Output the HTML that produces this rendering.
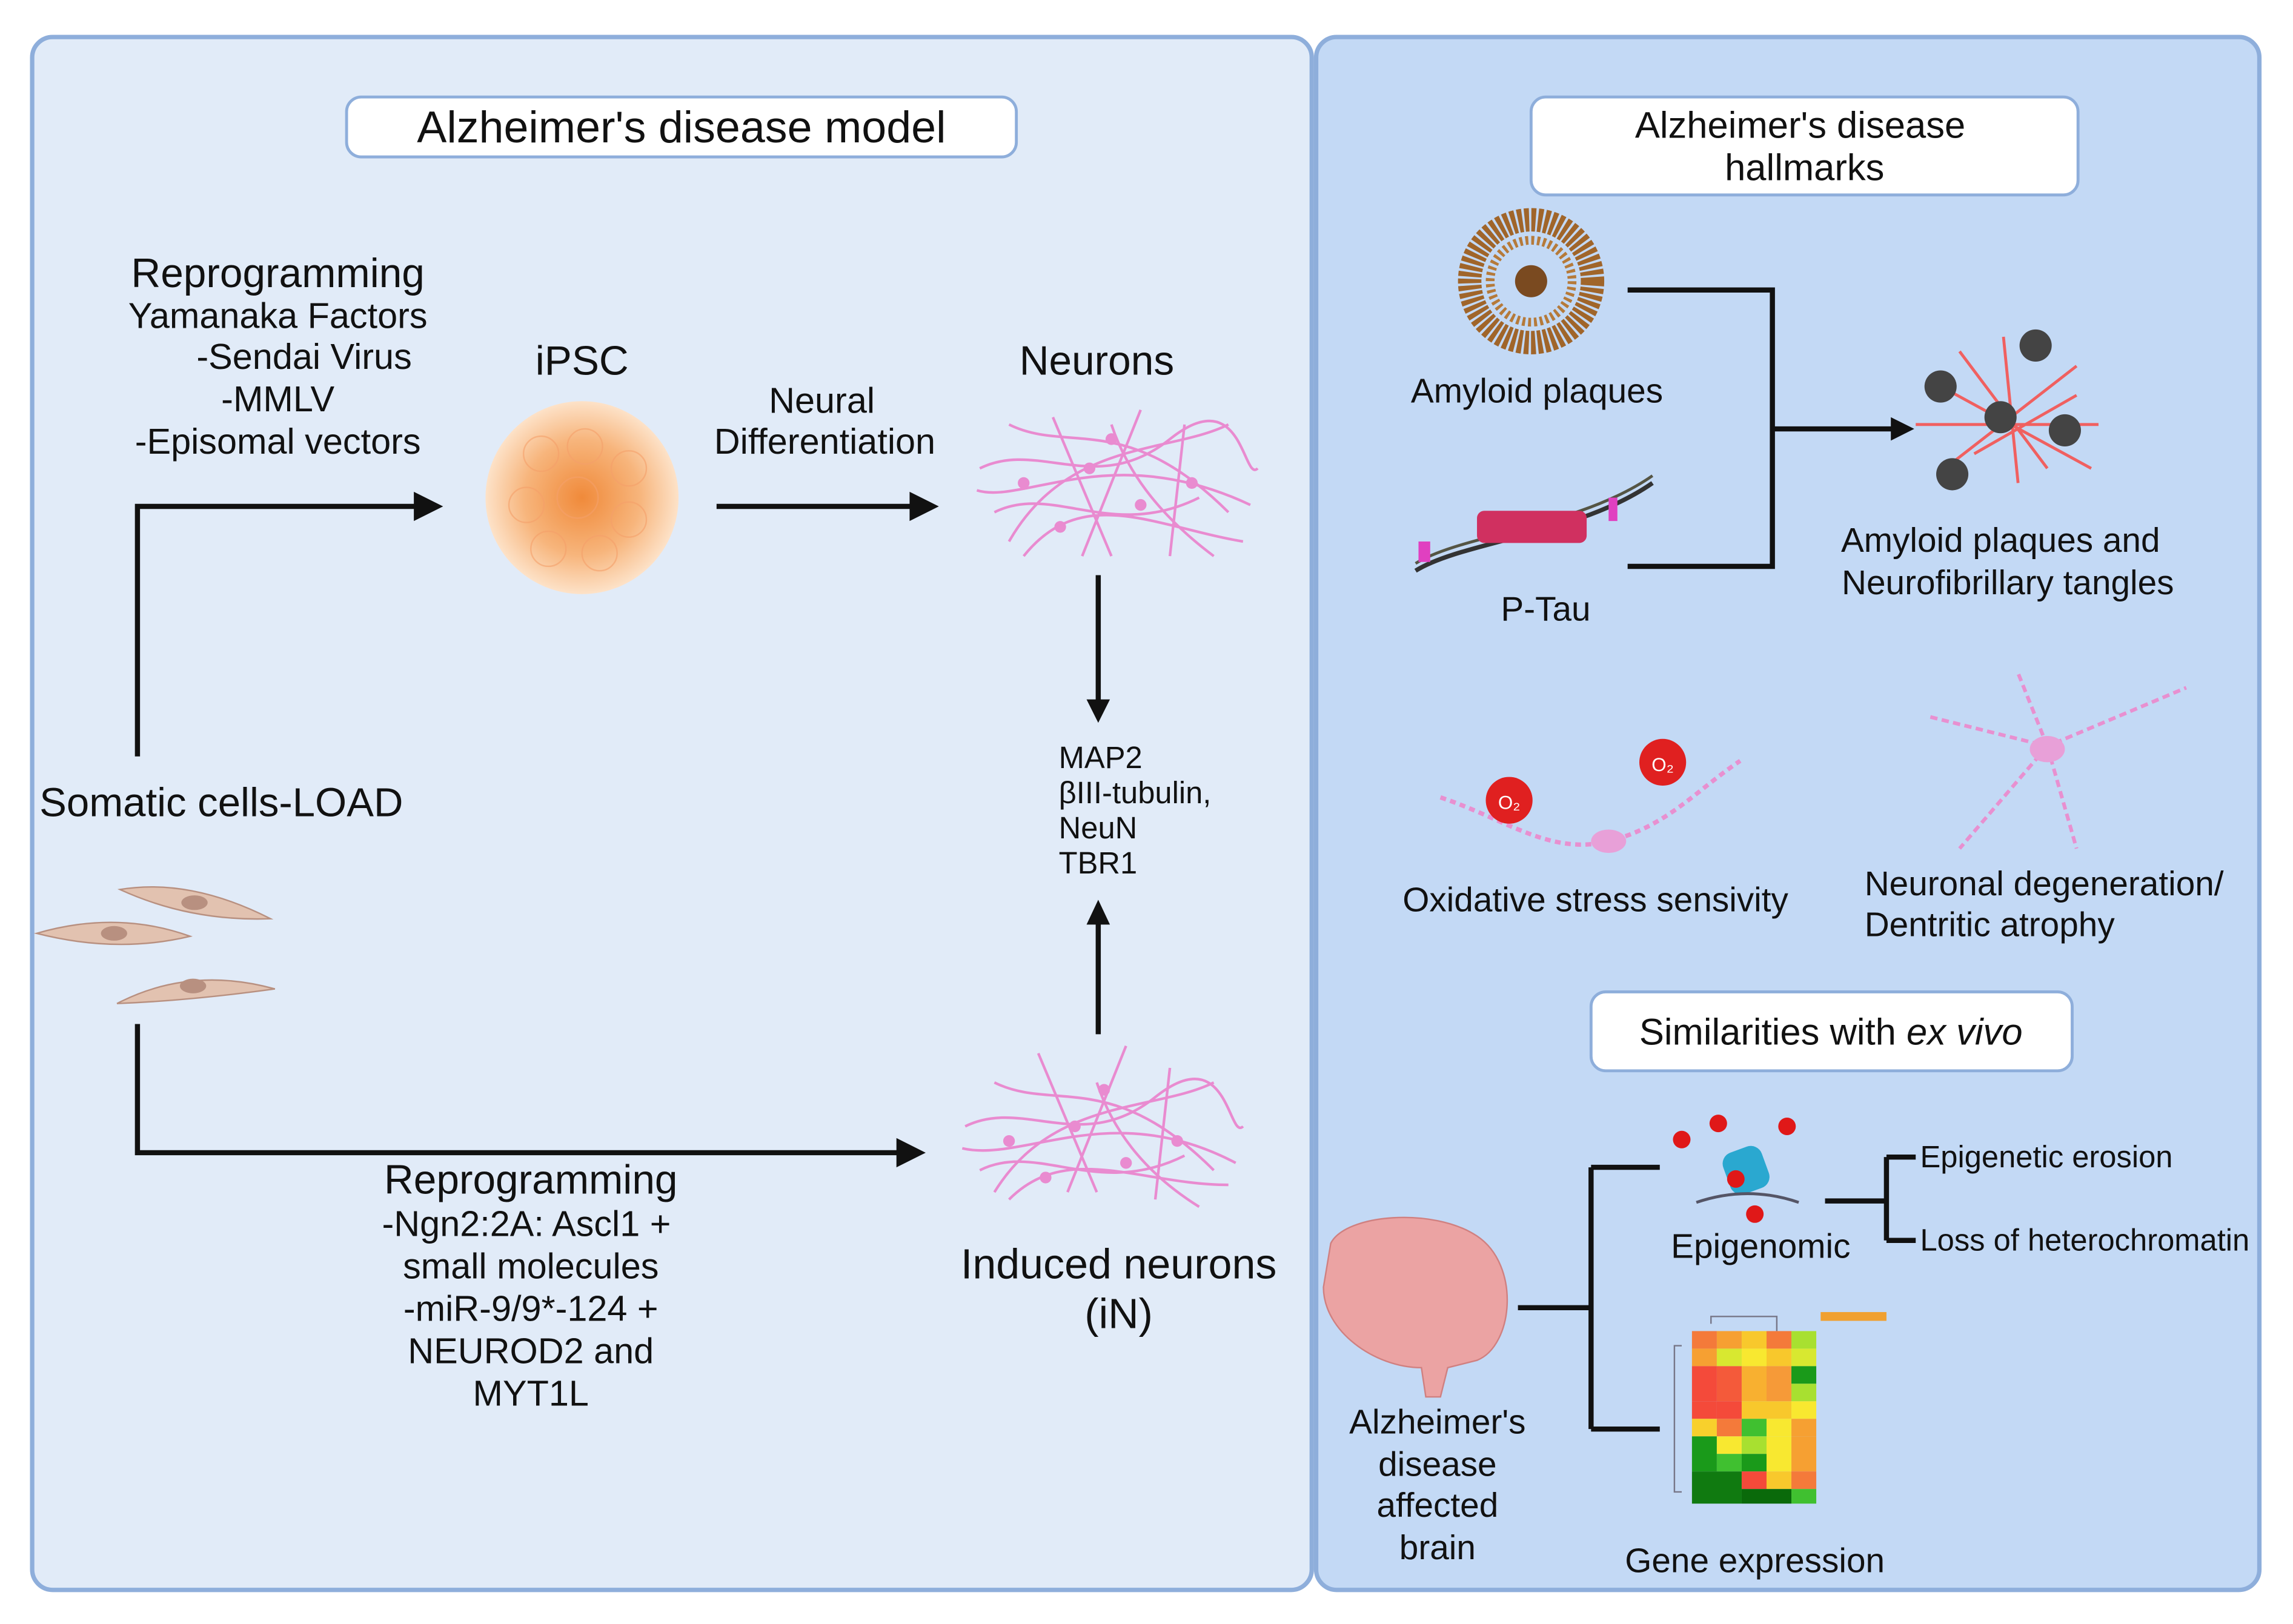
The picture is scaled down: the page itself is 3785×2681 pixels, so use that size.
<!DOCTYPE html>
<html><head><meta charset="utf-8"><style>html,body{margin:0;padding:0;background:#fff}svg{display:block}text{font-family:"Liberation Sans",sans-serif;fill:#111}</style></head><body>
<svg width="3785" height="2681" viewBox="0 0 1568 1110" xmlns="http://www.w3.org/2000/svg">
<defs>
<radialGradient id="ips" cx="50%" cy="50%" r="50%"><stop offset="0" stop-color="#f08a3a"/><stop offset="0.6" stop-color="#f7b57c"/><stop offset="1" stop-color="#fde2c8"/></radialGradient>
</defs>
<rect width="1568" height="1110" fill="#fff"/>
<rect x="22" y="25" width="875" height="1062" rx="14" fill="#e1ebf8" stroke="#8eaedb" stroke-width="3"/>
<rect x="900" y="25" width="645" height="1062" rx="14" fill="#c3d9f5" stroke="#8eaedb" stroke-width="3"/>
<rect x="237" y="66" width="458" height="41" rx="10" fill="#fff" stroke="#8eaedb" stroke-width="2"/>
<text x="466" y="97" font-size="30.5" text-anchor="middle">Alzheimer's disease model</text>
<rect x="1047" y="66" width="374" height="67" rx="10" fill="#fff" stroke="#8eaedb" stroke-width="2"/>
<text x="1231" y="94" font-size="25.5" text-anchor="middle">Alzheimer's disease</text>
<text x="1234" y="123" font-size="25.5" text-anchor="middle">hallmarks</text>
<rect x="1088" y="678" width="329" height="54" rx="10" fill="#fff" stroke="#8eaedb" stroke-width="2"/>
<text x="1252" y="714" font-size="25.5" text-anchor="middle">Similarities with <tspan font-style="italic">ex vivo</tspan></text>

<g font-size="24.6" text-anchor="middle">
<text x="190" y="196" font-size="28">Reprogramming</text>
<text x="190" y="224">Yamanaka Factors</text>
<text x="208" y="252">-Sendai Virus</text>
<text x="190" y="281">-MMLV</text>
<text x="190" y="310">-Episomal vectors</text>
<text x="398" y="256" font-size="28">iPSC</text>
<text x="562" y="282">Neural</text>
<text x="564" y="310">Differentiation</text>
<text x="750" y="256" font-size="28">Neurons</text>
<text x="363" y="816" font-size="28">Reprogramming</text>
<text x="360" y="845">-Ngn2:2A: Ascl1 +</text>
<text x="363" y="874">small molecules</text>
<text x="363" y="903">-miR-9/9*-124 +</text>
<text x="363" y="932">NEUROD2 and</text>
<text x="363" y="961">MYT1L</text>
<text x="765" y="874" font-size="29">Induced neurons</text>
<text x="765" y="908" font-size="29">(iN)</text>
</g>
<text x="27" y="558" font-size="27.8">Somatic cells-LOAD</text>
<g font-size="21"><text x="724" y="525">MAP2</text><text x="724" y="549">βIII-tubulin,</text><text x="724" y="573">NeuN</text><text x="724" y="597">TBR1</text></g>

<g stroke="#111" stroke-width="3.5" fill="none">
<path d="M94,517 V346 H285"/><path d="M490,346 H625"/><path d="M751,393 V480"/><path d="M751,707 V630"/><path d="M94,700 V788 H615"/>
<path d="M1113,198 H1212 V387 H1113 M1212,293 H1295"/>
<path d="M1038,894 H1088 M1088,798 V977 M1088,798 H1135 M1088,977 H1135"/>
<path d="M1248,821 H1290 M1290,791 V848 M1290,791 H1310 M1290,848 H1310"/>
</g>
<g fill="#111">
<path d="M283,336 L303,346 L283,356Z"/><path d="M622,336 L642,346 L622,356Z"/><path d="M743,478 L751,494 L759,478Z"/><path d="M743,632 L751,615 L759,632Z"/><path d="M613,778 L633,788 L613,798Z"/><path d="M1293,285 L1309,293 L1293,301Z"/>
</g>

<!-- iPSC -->
<circle cx="398" cy="340" r="66" fill="url(#ips)"/>
<g fill="none" stroke="#f5a06a" stroke-width="1" opacity="0.6">
<circle cx="370" cy="310" r="12"/><circle cx="400" cy="305" r="12"/><circle cx="430" cy="320" r="12"/><circle cx="360" cy="345" r="12"/><circle cx="395" cy="340" r="14"/><circle cx="430" cy="355" r="12"/><circle cx="375" cy="375" r="12"/><circle cx="410" cy="378" r="12"/>
</g>
<!-- neurons -->
<g stroke="#e98bd0" stroke-width="1.8" fill="none">
<path d="M670,320 C710,300 750,340 800,300 S850,330 860,320 M680,350 C720,330 760,370 820,340 M690,290 C730,310 770,280 840,350 M700,380 C740,330 790,360 850,370 M720,285 L760,380 M780,280 L740,380 M810,290 L800,380 M668,335 C700,345 760,300 855,345 M690,370 C730,300 800,310 840,290 M760,290 C770,320 790,350 830,380"/>
<path d="M660,770 C700,750 740,790 790,750 S840,780 850,770 M670,800 C710,780 750,820 810,790 M680,740 C720,760 760,730 830,800 M690,820 C730,780 780,810 840,810 M710,720 L750,815 M770,715 L730,815 M800,730 L790,820 M658,785 C700,795 760,750 845,795 M680,815 C720,750 790,760 830,740 M750,740 C760,770 780,800 820,825"/>
</g>
<g fill="#e98bd0"><circle cx="700" cy="330" r="4"/><circle cx="745" cy="320" r="4"/><circle cx="780" cy="345" r="4"/><circle cx="815" cy="330" r="4"/><circle cx="725" cy="360" r="4"/><circle cx="760" cy="300" r="4"/><circle cx="690" cy="780" r="4"/><circle cx="735" cy="770" r="4"/><circle cx="770" cy="795" r="4"/><circle cx="805" cy="780" r="4"/><circle cx="715" cy="805" r="4"/><circle cx="755" cy="745" r="4"/></g>
<!-- somatic cells -->
<g fill="#e2c2b0" stroke="#b89080" stroke-width="1"><path d="M82,608 Q130,600 185,628 Q130,630 82,608Z"/><path d="M25,638 Q80,622 130,640 Q80,652 25,638Z"/><path d="M80,686 Q130,660 188,676 Q130,684 80,686Z"/></g>
<g fill="#b89080"><ellipse cx="133" cy="617" rx="9" ry="5"/><ellipse cx="78" cy="638" rx="9" ry="5"/><ellipse cx="132" cy="674" rx="9" ry="5"/></g>

<!-- right panel graphics -->
<circle cx="1047" cy="192" r="42" fill="none" stroke="#a0652a" stroke-width="16" stroke-dasharray="3 1.5"/>
<circle cx="1047" cy="192" r="28" fill="none" stroke="#b57a3a" stroke-width="6" stroke-dasharray="2 2"/>
<circle cx="1047" cy="192" r="11" fill="#7a4a20"/>
<text x="1051" y="275" font-size="23.5" text-anchor="middle">Amyloid plaques</text>
<path d="M968,390 C1000,370 1080,365 1130,330" stroke="#333" stroke-width="3" fill="none"/>
<path d="M968,385 C1000,365 1080,360 1130,325" stroke="#554" stroke-width="2" fill="none"/>
<rect x="1010" y="349" width="75" height="22" rx="5" fill="#d03060"/>
<rect x="970" y="370" width="8" height="14" fill="#e040c0"/><rect x="1100" y="340" width="6" height="16" fill="#e040c0"/>
<text x="1057" y="424" font-size="23.5" text-anchor="middle">P-Tau</text>
<g stroke="#f06060" stroke-width="2"><path d="M1320,260 L1430,320 M1330,320 L1420,250 M1370,230 L1380,330 M1310,290 L1435,290 M1340,240 L1400,320 M1350,310 L1420,270"/></g>
<g fill="#444"><circle cx="1327" cy="264" r="11"/><circle cx="1392" cy="236" r="11"/><circle cx="1368" cy="285" r="11"/><circle cx="1412" cy="294" r="11"/><circle cx="1335" cy="324" r="11"/></g>
<text x="1368" y="377" font-size="23.5" text-anchor="middle">Amyloid plaques and</text>
<text x="1373" y="406" font-size="23.5" text-anchor="middle">Neurofibrillary tangles</text>
<path d="M985,545 C1030,560 1060,585 1100,575 C1140,565 1160,540 1190,520" stroke="#e890d0" stroke-width="3" fill="none" stroke-dasharray="4 3"/>
<ellipse cx="1100" cy="575" rx="12" ry="8" fill="#e8a0d8"/>
<circle cx="1032" cy="547" r="16" fill="#e02020"/><circle cx="1137" cy="521" r="16" fill="#e02020"/>
<text x="1032" y="553" font-size="13" text-anchor="middle" style="fill:#fff">O₂</text><text x="1137" y="527" font-size="13" text-anchor="middle" style="fill:#fff">O₂</text>
<text x="1091" y="623" font-size="23.5" text-anchor="middle">Oxidative stress sensivity</text>
<path d="M1320,490 L1400,510 L1495,470 M1400,510 L1420,580 M1400,510 L1340,580 M1400,510 L1380,460" stroke="#e890d0" stroke-width="2.5" fill="none" stroke-dasharray="5 3"/>
<ellipse cx="1400" cy="512" rx="12" ry="9" fill="#e8a0d8"/>
<text x="1275" y="612" font-size="23.5">Neuronal degeneration/</text>
<text x="1275" y="640" font-size="23.5">Dentritic atrophy</text>
<!-- epigenomic -->
<rect x="1180" y="785" width="28" height="30" rx="8" fill="#2aa8d0" transform="rotate(-20 1194 800)"/>
<path d="M1160,822 Q1195,810 1230,822" stroke="#556" stroke-width="2" fill="none"/>
<g fill="#e01818"><circle cx="1150" cy="779" r="6"/><circle cx="1175" cy="768" r="6"/><circle cx="1222" cy="770" r="6"/><circle cx="1187" cy="806" r="6"/><circle cx="1200" cy="830" r="6"/></g>
<text x="1204" y="860" font-size="23.5" text-anchor="middle">Epigenomic</text>
<text x="1313" y="798" font-size="21">Epigenetic erosion</text>
<text x="1313" y="855" font-size="21">Loss of heterochromatin</text>
<!-- brain -->
<path d="M910,850 C920,830 980,825 1010,845 C1040,865 1035,920 1010,930 L990,935 L985,955 L975,955 L972,935 C940,935 905,910 905,880Z" fill="#eba3a3" stroke="#d08080"/>
<g font-size="23.5" text-anchor="middle"><text x="983" y="980">Alzheimer's</text><text x="983" y="1009">disease</text><text x="983" y="1037">affected</text><text x="983" y="1066">brain</text></g>
<!-- heatmap -->
<g>
<rect x="1157" y="910" width="17" height="12" fill="#f47a3a"/><rect x="1174" y="910" width="17" height="12" fill="#f6a032"/><rect x="1191" y="910" width="17" height="12" fill="#f8c82c"/><rect x="1208" y="910" width="17" height="12" fill="#f47a3a"/><rect x="1225" y="910" width="17" height="12" fill="#a8e030"/>
<rect x="1157" y="922" width="17" height="12" fill="#f6a032"/><rect x="1174" y="922" width="17" height="12" fill="#d8e830"/><rect x="1191" y="922" width="17" height="12" fill="#f8e830"/><rect x="1208" y="922" width="17" height="12" fill="#f8c82c"/><rect x="1225" y="922" width="17" height="12" fill="#d8e830"/>
<rect x="1157" y="934" width="17" height="24" fill="#f44a3a"/><rect x="1174" y="934" width="17" height="24" fill="#f45a3a"/><rect x="1191" y="934" width="17" height="24" fill="#f8b030"/><rect x="1208" y="934" width="17" height="24" fill="#f69a38"/><rect x="1225" y="934" width="17" height="12" fill="#1a9a1a"/><rect x="1225" y="946" width="17" height="12" fill="#a8e030"/>
<rect x="1157" y="958" width="17" height="12" fill="#f44a3a"/><rect x="1174" y="958" width="17" height="12" fill="#f44a3a"/><rect x="1191" y="958" width="17" height="12" fill="#f8c82c"/><rect x="1208" y="958" width="17" height="12" fill="#f8c82c"/><rect x="1225" y="958" width="17" height="12" fill="#f8e830"/>
<rect x="1157" y="970" width="17" height="12" fill="#f8d02c"/><rect x="1174" y="970" width="17" height="12" fill="#f47a3a"/><rect x="1191" y="970" width="17" height="12" fill="#40c030"/><rect x="1208" y="970" width="17" height="12" fill="#f8e830"/><rect x="1225" y="970" width="17" height="12" fill="#f6a032"/>
<rect x="1157" y="982" width="17" height="24" fill="#1a9a1a"/><rect x="1174" y="982" width="17" height="12" fill="#f8e830"/><rect x="1174" y="994" width="17" height="12" fill="#40c030"/><rect x="1191" y="982" width="17" height="12" fill="#a8e030"/><rect x="1191" y="994" width="17" height="12" fill="#1a9a1a"/><rect x="1208" y="982" width="17" height="24" fill="#f8e830"/><rect x="1225" y="982" width="17" height="24" fill="#f6a032"/>
<rect x="1157" y="1006" width="34" height="22" fill="#107a10"/><rect x="1191" y="1006" width="17" height="12" fill="#f44a3a"/><rect x="1208" y="1006" width="17" height="12" fill="#f8c82c"/><rect x="1225" y="1006" width="17" height="12" fill="#f47a3a"/><rect x="1191" y="1018" width="34" height="10" fill="#0a6a0a"/><rect x="1225" y="1018" width="17" height="10" fill="#40c030"/>
<rect x="1245" y="897" width="45" height="6" fill="#f0a030"/>
<path d="M1150,920 H1145 V1020 H1150 M1170,905 V900 H1215 V910" stroke="#778" stroke-width="1" fill="none"/>
</g>
<text x="1200" y="1075" font-size="23.5" text-anchor="middle">Gene expression</text>
</svg>
</body></html>
